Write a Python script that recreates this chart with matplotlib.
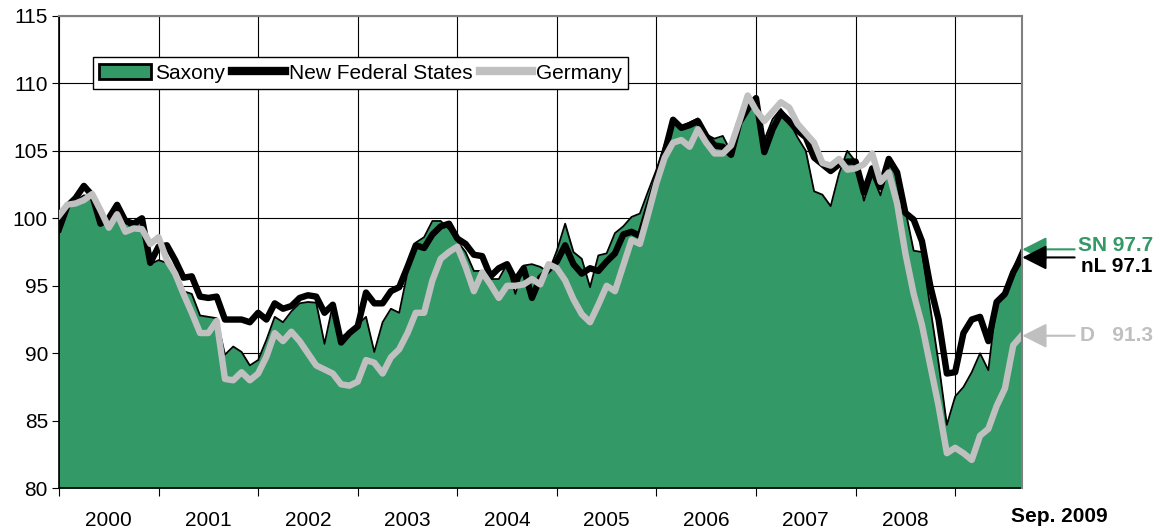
import matplotlib.pyplot as plt
from matplotlib.patches import Patch
from matplotlib.lines import Line2D

# monthly index values, Jan 2000 .. Sep 2009 (one row per year)
saxony = [
    98.9, 100.7, 101.3, 101.7, 101.6, 99.6, 99.5, 99.9, 99.8, 99.1, 100.0, 96.6,
    96.9, 96.7, 95.9, 94.6, 94.4, 92.8, 92.7, 92.6, 89.9, 90.5, 90.1, 89.1,
    89.5, 91.0, 92.7, 92.3, 93.1, 93.7, 93.8, 93.75, 90.7, 93.6, 91.2, 91.6,
    92.1, 92.7, 90.1, 92.3, 93.3, 93.0, 96.0, 98.2, 98.6, 99.8, 99.8, 99.2,
    98.3, 97.5, 96.1, 96.1, 95.5, 95.5, 96.6, 94.4, 96.5, 96.6, 96.4, 96.0,
    97.6, 99.6, 97.5, 97.0, 94.9, 97.25, 97.4, 98.9, 99.4, 100.1, 100.35, 102.0,
    103.6, 105.5, 107.4, 106.8, 107.1, 107.4, 106.2, 105.9, 106.1, 104.9, 107.4, 108.7,
    109.0, 105.8, 107.35, 108.1, 107.2, 106.0, 105.0, 102.0, 101.75, 100.9, 103.3, 105.0,
    104.2, 101.3, 103.2, 101.7, 104.1, 103.1, 100.6, 97.6, 97.5, 93.4, 89.3, 84.7,
    86.8, 87.5, 88.6, 90.0, 88.75, 93.9, 94.4, 96.3, 97.7,
]
new_states = [
    99.2, 100.9, 101.5, 102.4, 101.7, 99.6, 100.0, 101.0, 99.8, 99.6, 100.0, 96.7,
    97.9, 98.0, 96.9, 95.6, 95.7, 94.2, 94.1, 94.2, 92.5, 92.5, 92.5, 92.3,
    93.0, 92.5, 93.7, 93.3, 93.5, 94.1, 94.3, 94.2, 93.0, 93.6, 90.8, 91.5,
    92.0, 94.5, 93.7, 93.7, 94.6, 94.9, 96.4, 98.0, 97.8, 98.8, 99.4, 99.6,
    98.5, 98.1, 97.3, 97.2, 95.7, 96.3, 96.6, 95.4, 96.3, 94.1, 95.6, 96.2,
    96.8, 98.0, 96.6, 95.9, 96.3, 96.1, 96.8, 97.4, 98.8, 99.0, 98.7, 100.8,
    102.8, 104.9, 107.3, 106.7, 106.9, 107.2, 106.1, 105.4, 105.3, 104.7, 107.1, 108.1,
    108.9, 104.9, 106.6, 107.8, 107.2, 106.5, 106.0, 104.5, 104.0, 103.5, 104.0, 104.2,
    104.2, 101.9, 103.7, 102.3, 104.4, 103.4, 100.4, 99.9, 98.3, 95.0, 92.5, 88.5,
    88.6, 91.5, 92.5, 92.7, 90.9, 93.8, 94.4, 96.0, 97.1,
]
germany = [
    100.2, 101.0, 101.1, 101.35, 101.8, 100.6, 99.3, 100.3, 99.0, 99.25, 99.2, 98.1,
    98.6, 96.9, 95.9, 94.4, 93.0, 91.5, 91.5, 92.4, 88.1, 88.0, 88.6, 88.0,
    88.5, 89.75, 91.5, 90.9, 91.6, 90.9, 90.0, 89.1, 88.8, 88.5, 87.7, 87.6,
    87.9, 89.5, 89.3, 88.5, 89.7, 90.3, 91.5, 93.0, 93.0, 95.4, 97.0, 97.5,
    97.9, 96.4, 94.6, 96.0, 95.1, 94.1, 95.0, 95.0, 95.1, 95.5, 95.1, 96.6,
    96.3, 95.4, 94.0, 92.9, 92.3, 93.6, 95.0, 94.6, 96.5, 98.4, 98.1, 100.3,
    102.6, 104.5, 105.6, 105.8, 105.3, 106.6, 105.6, 104.8, 104.8, 105.4, 107.2, 109.1,
    108.0, 107.2, 107.9, 108.6, 108.2, 107.0, 106.3, 105.6, 104.1, 103.9, 104.4, 103.6,
    103.7, 104.0, 104.8, 102.7, 103.4, 101.1, 97.4, 94.4, 92.1, 89.1, 86.1, 82.6,
    83.0, 82.6, 82.1, 83.9, 84.4, 86.1, 87.4, 90.6, 91.3,
]
years = ["2000", "2001", "2002", "2003", "2004", "2005", "2006", "2007", "2008"]
last_label = "Sep. 2009"
end_labels = [("SN 97.7", saxony[-1]), ("nL 97.1", new_states[-1]), ("D   91.3", germany[-1])]

months = list(range(len(saxony)))

plt.rcParams['font.family'] = ['Liberation Sans', 'DejaVu Sans']
fs = 15

green = '#339966'
grey = '#c0c0c0'

fig = plt.figure(figsize=(11.59, 5.30), dpi=100)
ax = fig.add_axes([0.0509, 0.0787, 0.8305, 0.8915])

ax.fill_between(months, 80, saxony, color=green, zorder=2, linewidth=0)
ax.plot(months, saxony, color='black', lw=1.3, zorder=3)
ax.plot(months, new_states, color='black', lw=4.6, zorder=4)
ax.plot(months, germany, color=grey, lw=4.6, zorder=5)

ax.set_xlim(0, len(months) - 1)
ax.set_ylim(80, 115)
ax.set_yticks(range(80, 116, 5))

# year boundaries as major ticks/grid, year names in the middle
ax.set_xticks([12 * k for k in range(10)])
ax.set_xticklabels([])
ax.set_xticks([6 + 12 * k for k in range(len(years))], minor=True)
ax.set_xticklabels(years, minor=True)
ax.tick_params(axis='x', which='minor', length=0, labelsize=fs, pad=16)
ax.tick_params(axis='x', which='major', length=6, direction='out', color='black')
ax.tick_params(axis='y', length=5, direction='out', labelsize=fs, pad=3)

ax.grid(True, which='major', color='black', lw=0.8)
ax.set_axisbelow(True)

for s in ['top', 'right']:
    ax.spines[s].set_color('#808080')
    ax.spines[s].set_linewidth(1.5)
ax.spines['left'].set_linewidth(1.2)
ax.spines['bottom'].set_linewidth(1.2)
ax.spines['right'].set_zorder(6)

ax.text(120.5, -0.06, last_label, transform=ax.get_xaxis_transform(),
        ha='center', va='center', fontsize=fs, fontweight='bold', clip_on=False)

# end-of-series markers on the right
colors = [green, 'black', '#bfbfbf']
text_y = [98.0, 96.4, 91.3]
for (lab, val), c, ty in zip(end_labels, colors, text_y):
    ax.annotate('', xy=(116.1, val), xytext=(122.4, val),
                arrowprops=dict(arrowstyle='-|>,head_length=0.75,head_width=0.38',
                                color=c, lw=1.5, mutation_scale=20, shrinkA=0, shrinkB=0),
                annotation_clip=False)
    ax.text(131.8, ty, lab, color=c, fontsize=fs, fontweight='bold',
            ha='right', va='center', clip_on=False)

handles = [
    Patch(facecolor=green, edgecolor='black', linewidth=2.0),
    Line2D([], [], color='black', lw=6),
    Line2D([], [], color=grey, lw=6),
]
leg = ax.legend(handles, ['Saxony', 'New Federal States', 'Germany'], ncol=3,
                loc='upper left', bbox_to_anchor=(0.035, 0.912), fontsize=fs,
                frameon=True, fancybox=False, framealpha=1, edgecolor='black',
                handlelength=2.5, handletextpad=0.2, columnspacing=0.35,
                borderpad=0.3, borderaxespad=0)
leg.get_frame().set_linewidth(1.0)
leg.set_zorder(10)

plt.savefig('out.png', dpi=100)
